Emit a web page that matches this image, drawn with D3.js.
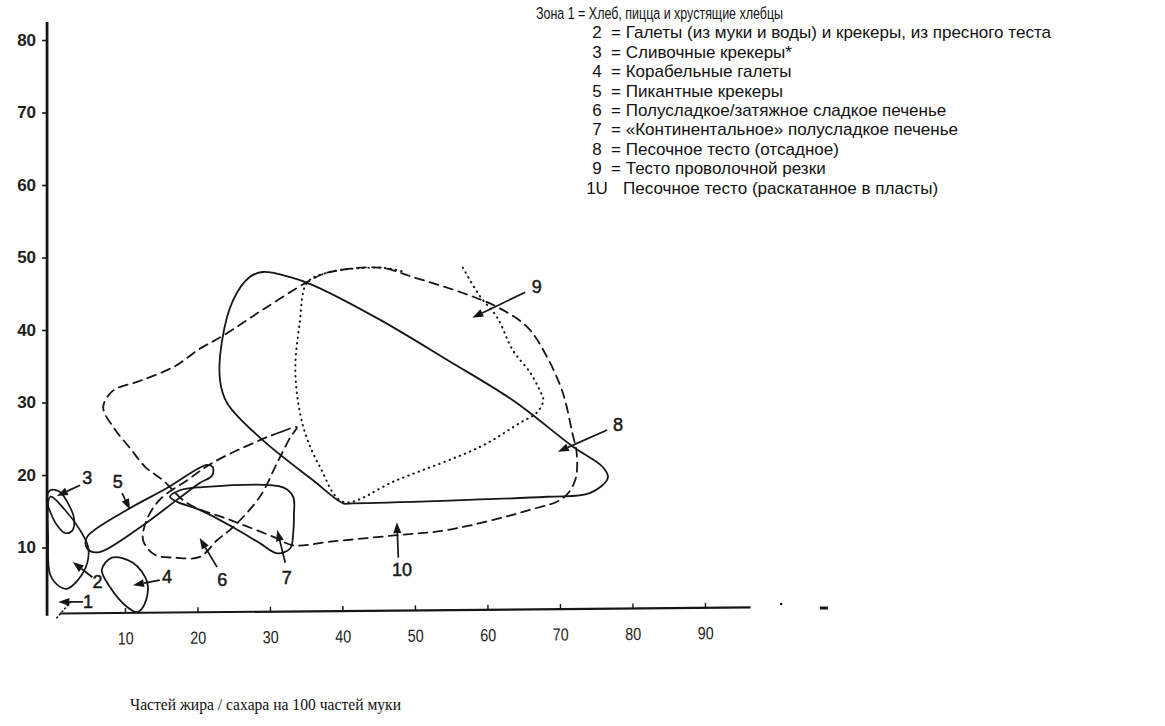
<!DOCTYPE html>
<html><head><meta charset="utf-8">
<script src="https://cdn.jsdelivr.net/npm/d3@7"></script>
<style>html,body{margin:0;padding:0;background:#fff}</style>
</head><body>
<svg id="c" width="1165" height="726"></svg>
<script>
// ---------- data ----------
const xTicks = [10,20,30,40,50,60,70,80,90];
const yTicks = [10,20,30,40,50,60,70,80];

const zone1 = [[0.6,0.3],[2.5,2.5]];
const zone2 = [[-0.3,17.0],[1.7,15.2],[3.8,12.4],[4.9,10.1],[4.8,7.9],[3.5,5.5],[2.0,4.3],[1.0,4.6],[-0.3,6.2],[-0.6,11.0]];
const zone3 = [[-0.3,17.9],[1.0,17.7],[2.4,15.6],[3.0,13.8],[2.7,12.3],[1.7,12.0],[0.6,13.1],[-0.3,14.9],[-0.8,16.6]];
const zone4 = [[6.8,6.9],[8.2,8.6],[11.1,7.9],[13.1,5.1],[12.7,2.2],[11.7,1.1],[10.3,1.8],[7.9,4.6]];
const zone5 = [[4.8,11.5],[10.3,15.2],[15.8,18.2],[21.3,21.4],[22.1,21.1],[22.0,19.9],[20.3,18.9],[17.2,16.6],[12.1,12.8],[6.6,9.4],[5.2,9.5],[4.6,10.3]];
const zone6 = [[33.7,26.6],[31.4,25.9],[28.6,24.8],[22.1,21.7],[18.6,19.3],[14.8,16.6],[13.0,13.8],[12.5,11.0],[14.1,9.0],[16.9,8.6],[20.3,8.7],[22.7,11.0],[24.9,12.8],[28.6,17.0],[31.0,21.7],[32.8,25.2]];
const zone7 = [[16.2,17.0],[17.6,17.9],[20.3,18.3],[31.8,18.3],[33.2,17.0],[33.3,14.5],[33.2,12.0],[32.8,9.9],[31.0,9.2],[28.6,10.6],[24.9,12.8],[20.3,15.2],[17.2,16.3]];
const zone8 = [[27.2,47.3],[29.0,48.0],[32.8,47.3],[35.9,46.2],[45.2,41.4],[54.4,35.9],[63.5,30.3],[71.8,23.9],[75.9,21.1],[76.6,19.6],[74.1,17.5],[68.2,17.0],[41.4,16.1],[40.1,16.1],[35.9,19.3],[29.0,24.8],[24.1,29.9],[23.1,33.1],[23.4,38.6],[24.9,44.1]];
const zone9 = [[56.6,48.6],[59.0,44.6],[61.3,41.8],[63.5,37.2],[65.9,34.1],[67.2,31.7],[67.7,30.3],[66.8,28.6],[64.5,27.2],[59.0,23.9],[47.5,19.3],[40.1,16.3],[36.9,21.1],[34.6,26.6],[33.5,34.1],[34.1,41.0],[35.1,46.5],[37.9,47.9],[45.2,48.6],[48.6,48.0]];
const zone10 = [[35.1,46.6],[37.9,47.9],[45.2,48.6],[49.7,47.3],[56.6,45.1],[61.3,43.2],[65.5,40.4],[68.2,36.3],[70.4,31.3],[71.7,25.8],[72.3,23.0],[72.1,19.3],[70.4,16.8],[65.9,15.2],[54.4,12.4],[47.5,11.7],[38.3,10.8],[33.2,10.3],[30.4,11.5],[24.5,13.8],[18.6,16.1],[15.2,19.3],[12.8,21.1],[10.7,23.7],[8.6,26.3],[7.0,29.3],[8.3,31.6],[12.1,33.0],[16.9,35.0],[20.3,37.4],[23.5,39.2],[29.0,42.8]];

const zoneLabels = ["1","2","3","4","5","6","7","8","9","10"];
const labelPos  = [[4.9,2.5],[6.2,5.2],[4.8,19.6],[15.8,5.9],[9.0,19.1],[23.4,5.5],[32.3,5.8],[78.0,26.9],[66.8,45.9],[48.2,6.9]];
const arrowFrom = [[4.2,2.5],[5.5,5.9],[3.8,18.6],[14.8,5.5],[9.6,17.5],[22.7,7.3],[32.1,7.9],[76.5,26.2],[65.2,45.2],[47.7,8.6]];
const arrowTo   = [[0.8,2.5],[2.8,8.0],[0.6,17.1],[11.1,4.8],[10.7,15.2],[20.3,11.3],[31.0,12.4],[69.7,23.2],[57.9,41.7],[47.5,13.5]];

const legendHead = "Зона 1 = Хлеб, пицца и хрустящие хлебцы";
const legendNums = ["2","3","4","5","6","7","8","9","1U"];
const legendTexts = [
  "= Галеты (из муки и воды) и крекеры, из пресного теста",
  "= Сливочные крекеры*",
  "= Корабельные галеты",
  "= Пикантные крекеры",
  "= Полусладкое/затяжное сладкое печенье",
  "= «Континентальное» полусладкое печенье",
  "= Песочное тесто (отсадное)",
  "= Тесто проволочной резки",
  "Песочное тесто (раскатанное в пласты)"
];
const axisTitle = "Частей  жира / сахара на 100 частей муки";

// ---------- drawing ----------
const svg = d3.select("#c");
const ink = "#161616";
const x = d3.scaleLinear().domain([0,100]).range([52.5,777.5]);
const y = d3.scaleLinear().domain([0,80]).range([620,40]);

svg.append("rect").attr("width",1165).attr("height",726).attr("fill","#fff");

// Y axis
const yAxisX = x(-0.75);
svg.append("line").attr("x1",yAxisX).attr("x2",yAxisX)
  .attr("y1",y(82.5)).attr("y2",y(0.6))
  .attr("stroke",ink).attr("stroke-width",2.8);
const ya = svg.append("g").attr("transform",`translate(${yAxisX},0)`)
  .call(d3.axisLeft(y).tickValues(yTicks).tickSize(5).tickPadding(6));
ya.select(".domain").remove();
ya.selectAll(".tick line").attr("stroke",ink).attr("stroke-width",1.6);
ya.selectAll(".tick text").attr("fill","#1e1e1e")
  .style("font-family","'Liberation Sans', Arial, sans-serif")
  .style("font-size","17px").style("font-weight","bold");

// X axis (slightly tilted like the scan)
const xa = svg.append("g").attr("transform",`translate(0,${y(0.9)}) rotate(-0.5 ${x(1)} 0)`);
xa.append("line").attr("x1",x(1)).attr("x2",x(96.3)).attr("y1",0).attr("y2",0)
  .attr("stroke",ink).attr("stroke-width",2.2);
const xaxis = xa.append("g").call(d3.axisBottom(x).tickValues(xTicks).tickSize(-5).tickPadding(19));
xaxis.select(".domain").remove();
xaxis.selectAll(".tick line").attr("stroke",ink).attr("stroke-width",1.4);
xaxis.selectAll(".tick text").attr("fill","#222")
  .style("font-family","'Liberation Sans Narrow','Arial Narrow','Liberation Sans',sans-serif")
  .style("font-size","17.5px")
  .attr("textLength",16).attr("lengthAdjust","spacingAndGlyphs");
// trailing marks after axis end
svg.append("circle").attr("cx",x(100.5)).attr("cy",y(2.2)).attr("r",1.3).attr("fill",ink);
svg.append("rect").attr("x",x(106.4)-4).attr("y",y(1.65)-1.5).attr("width",8).attr("height",3).attr("fill",ink);

// zones
const closed = d3.line().x(d=>x(d[0])).y(d=>y(d[1])).curve(d3.curveCatmullRomClosed.alpha(0.5));
const open = d3.line().x(d=>x(d[0])).y(d=>y(d[1])).curve(d3.curveCatmullRom.alpha(0.5));
function draw(data, gen, dash, w){
  svg.append("path").attr("d",gen(data)).attr("fill","none")
    .attr("stroke",ink).attr("stroke-width",w||1.7)
    .attr("stroke-linecap","round").attr("stroke-linejoin","round")
    .attr("stroke-dasharray",dash||null);
}
draw(zone10, closed, "9,6", 1.8);
draw(zone6, closed, "9,6", 1.8);
draw(zone9, open, "0.5,5", 2.0);
draw(zone8, closed, null, 1.8);
draw(zone7, closed, null, 1.8);
draw(zone5, closed, null, 1.8);
draw(zone4, closed, null, 1.8);
draw(zone3, closed, null, 1.7);
draw(zone2, closed, null, 1.7);
draw(zone1, open, "1,3", 1.6);

// arrows + labels
zoneLabels.forEach((t,i)=>{
  const x1=x(arrowFrom[i][0]), y1=y(arrowFrom[i][1]);
  const x2=x(arrowTo[i][0]), y2=y(arrowTo[i][1]);
  const a=Math.atan2(y2-y1,x2-x1), L=11, W=4;
  const bx=x2-L*Math.cos(a), by=y2-L*Math.sin(a);
  svg.append("line").attr("x1",x1).attr("y1",y1).attr("x2",bx).attr("y2",by)
    .attr("stroke",ink).attr("stroke-width",1.7);
  svg.append("path").attr("fill",ink)
    .attr("d",`M${x2},${y2}L${bx+W*Math.sin(a)},${by-W*Math.cos(a)}L${bx-W*Math.sin(a)},${by+W*Math.cos(a)}Z`);
  svg.append("text").attr("x",x(labelPos[i][0])).attr("y",y(labelPos[i][1]))
    .attr("text-anchor","middle").attr("dominant-baseline","central")
    .attr("fill","#1a1a1a").attr("stroke","#1a1a1a").attr("stroke-width",0.5)
    .style("font-family","'Liberation Sans', Arial, sans-serif").style("font-size","18px")
    .text(t);
});

// legend: uniform horizontal condensing so the longest row spans like the original
const lg = svg.append("g").style("font-family","'Liberation Sans Narrow','Arial Narrow','Liberation Sans',sans-serif")
  .style("font-size","17px").attr("fill","#111");
const rowY = i => 13 + 19.4*i + 6;
lg.append("text").attr("x",536).attr("y",rowY(0)).text(legendHead)
  .attr("textLength",247).attr("lengthAdjust","spacingAndGlyphs");
const rows = legendNums.map((n,i)=>{
  lg.append("text").attr("x",597).attr("y",rowY(i+1)).attr("text-anchor","middle").text(n);
  const sx = i===8 ? 623 : 611;
  const t = lg.append("text").attr("x",sx).attr("y",rowY(i+1)).text(legendTexts[i]);
  return t;
});
const k = (1051-611) / rows[0].node().getComputedTextLength();
rows.forEach(t=>{
  const w = t.node().getComputedTextLength()*k;
  t.attr("textLength",w).attr("lengthAdjust","spacingAndGlyphs");
});

// axis title
svg.append("text").attr("x",130).attr("y",710).text(axisTitle)
  .style("font-family","'Liberation Serif','Times New Roman',serif").style("font-size","16.5px")
  .attr("fill","#111").attr("textLength",271).attr("lengthAdjust","spacingAndGlyphs");
</script>
</body></html>
